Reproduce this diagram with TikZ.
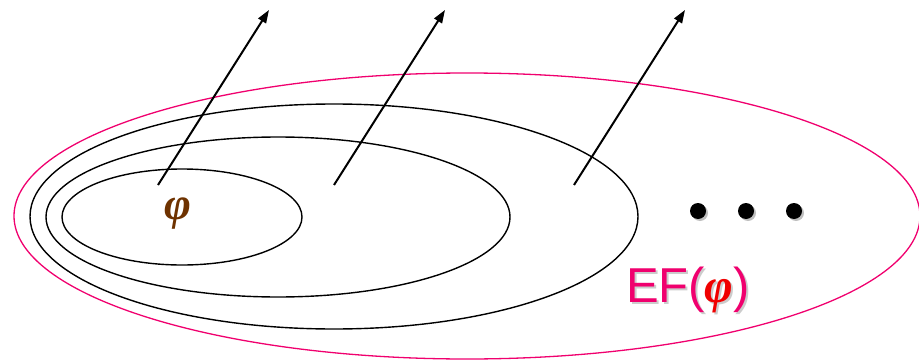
\documentclass[tikz,border=0pt]{standalone}
\usepackage{fontspec}
\setmainfont{Liberation Sans}
\newfontfamily\greekser{Liberation Serif}
\usetikzlibrary{arrows.meta}
\definecolor{efpink}{RGB}{240,0,110}
\definecolor{phibrown}{RGB}{110,50,0}
\definecolor{phired}{RGB}{240,0,0}
\tikzset{
  ring/.style={draw=black,line width=1.4pt},
  outring/.style={draw=efpink,line width=1.3pt},
  arr/.style={line width=2pt,-{Triangle[length=13pt,width=9pt]}},
  dotc/.style={circle,fill=black,inner sep=0pt,minimum size=16pt},
  shadowc/.style={circle,fill=black!25,inner sep=0pt,minimum size=16pt}
}
\newcommand{\phig}{{\greekser\bfseries\itshape φ}}
\begin{document}
\begin{tikzpicture}[x=1pt,y=-1pt]
\useasboundingbox (0,0) rectangle (919,364);
\draw[outring] (467,216) ellipse [x radius=453,y radius=143];
\draw[ring] (334,216.5) ellipse [x radius=304,y radius=112.5];
\draw[ring] (278,217) ellipse [x radius=232,y radius=80];
\draw[ring] (182,217) ellipse [x radius=120,y radius=48];
\coordinate (s1) at (158,185); \coordinate (e1) at (269,10);
\coordinate (s2) at (334,185); \coordinate (e2) at (445,10);
\coordinate (s3) at (574,185); \coordinate (e3) at (685,10);
\draw[arr] (s1) -- (e1);
\draw[arr] (s2) -- (e2);
\draw[arr] (s3) -- (e3);
\node[shadowc] (d1s) at (700,213) {};
\node[shadowc] (d2s) at (748,213) {};
\node[shadowc] (d3s) at (796,213) {};
\node[dotc] (d1) at (698,211) {};
\node[dotc] (d2) at (746,211) {};
\node[dotc] (d3) at (794,211) {};
\node[text=phibrown,font=\fontsize{46}{46}\selectfont] (phi) at (178,214) {\phig};
\node[text=black!20,font=\fontsize{49}{49}\selectfont] (efs) at (690,292) {EF({\greekser\bfseries\itshape φ})};
\node[text=efpink,font=\fontsize{49}{49}\selectfont] (ef) at (688,290) {EF(\textcolor{phired}{\phig})};
\end{tikzpicture}
\end{document}
